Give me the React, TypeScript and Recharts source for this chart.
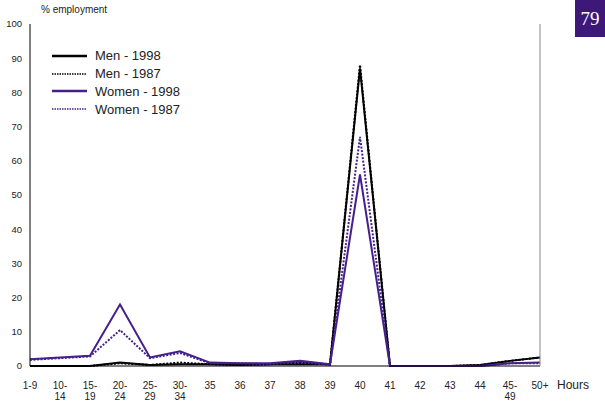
import React from 'react';
import { LineChart, Line, XAxis, YAxis } from 'recharts';

const hours = [
  '1-9', '10-\n14', '15-\n19', '20-\n24', '25-\n29', '30-\n34', '35', '36', '37', '38',
  '39', '40', '41', '42', '43', '44', '45-\n49', '50+',
];
const men1998 = [0, 0, 0, 1, 0.3, 0.5, 0.5, 0.3, 0.5, 0.5, 0.5, 87, 0, 0, 0, 0.3, 1.5, 2.5];
const men1987 = [0, 0, 0, 0.8, 0.3, 1, 0.5, 0.3, 0.5, 1, 0.5, 88, 0, 0, 0, 0.3, 1.5, 2.5];
const women1998 = [2, 2.5, 3, 18, 2.5, 4.3, 1, 0.8, 0.8, 1.5, 0.5, 56, 0, 0, 0, 0, 0.8, 1];
const women1987 = [1.8, 2.3, 2.8, 10.5, 2.3, 3.8, 0.8, 0.8, 0.5, 1.2, 0.3, 67, 0, 0, 0, 0, 0.8, 0.8];
const yTicks = [0, 10, 20, 30, 40, 50, 60, 70, 80, 90, 100];

const PURPLE = '#45208a';
const FONT = "'Liberation Sans Narrow', 'Liberation Sans', Arial, sans-serif";

const series = [
  { key: 'men1998', name: 'Men - 1998', color: '#000', dash: undefined },
  { key: 'men1987', name: 'Men - 1987', color: '#000', dash: '2 1.5' },
  { key: 'women1998', name: 'Women - 1998', color: PURPLE, dash: undefined },
  { key: 'women1987', name: 'Women - 1987', color: PURPLE, dash: '2 1.5' },
];

const data = hours.map((h, i) => ({
  hours: h,
  men1998: men1998[i],
  men1987: men1987[i],
  women1998: women1998[i],
  women1987: women1987[i],
}));

const HourTick = (props: any) => {
  const { x, payload } = props;
  const lines = String(payload.value).split('\n');
  return (
    <text x={x} y={389} textAnchor="middle" fontSize={10} fontFamily={FONT} fill="#222">
      {lines.map((l, i) => (
        <tspan key={i} x={x} dy={i === 0 ? 0 : 11}>{l}</tspan>
      ))}
    </text>
  );
};

export default function App() {
  return (
    <div style={{ position: 'absolute', left: 0, top: 0, width: 605, height: 405, background: '#fff' }}>
      <LineChart width={605} height={405} data={data} margin={{ top: 24, right: 0, bottom: 0, left: 0 }}>
        <XAxis
          dataKey="hours"
          interval={0}
          height={39}
          tickLine={false}
          axisLine={{ stroke: '#000' }}
          tick={<HourTick />}
        />
        <YAxis
          yAxisId="left"
          domain={[0, 100]}
          ticks={yTicks}
          width={30}
          tickLine={false}
          axisLine={{ stroke: '#000' }}
          tick={{ fontSize: 9.5, fontFamily: FONT, fill: '#222' }}
          tickMargin={2}
        />
        <YAxis
          yAxisId="right"
          orientation="right"
          domain={[0, 100]}
          ticks={yTicks}
          width={65}
          tickLine={false}
          axisLine={{ stroke: '#888' }}
          tick={{ fontSize: 9.5, fontFamily: FONT, fill: '#222' }}
          tickMargin={2}
        />
        {series.map((s) => (
          <Line
            key={s.key}
            yAxisId="left"
            dataKey={s.key}
            name={s.name}
            stroke={s.color}
            strokeWidth={2}
            strokeDasharray={s.dash}
            dot={false}
            type="linear"
            isAnimationActive={false}
          />
        ))}
      </LineChart>
      <div style={{ position: 'absolute', left: 41, top: 4, fontSize: 10, fontFamily: FONT, color: '#222' }}>
        % employment
      </div>
      <div style={{ position: 'absolute', left: 557, top: 378, fontSize: 12, fontFamily: FONT, color: '#222' }}>
        Hours
      </div>
      <div
        style={{
          position: 'absolute', left: 575, top: 0, width: 30, height: 37, background: '#3e1878',
          color: '#fff', fontFamily: 'serif', fontSize: 19, display: 'flex', alignItems: 'center',
          justifyContent: 'center',
        }}
      >
        79
      </div>
      <div style={{ position: 'absolute', left: 52, top: 47, fontFamily: FONT, fontSize: 13, color: '#222' }}>
        {series.map((s) => (
          <div key={s.key} style={{ display: 'flex', alignItems: 'center', height: 17.8 }}>
            <svg width={35} height={4} style={{ marginRight: 8 }}>
              <line x1={0} y1={2} x2={35} y2={2} stroke={s.color} strokeWidth={s.dash ? 1.5 : 2.5}
                strokeDasharray={s.dash ? '1.5 1' : undefined} />
            </svg>
            <span>{s.name}</span>
          </div>
        ))}
      </div>
    </div>
  );
}
